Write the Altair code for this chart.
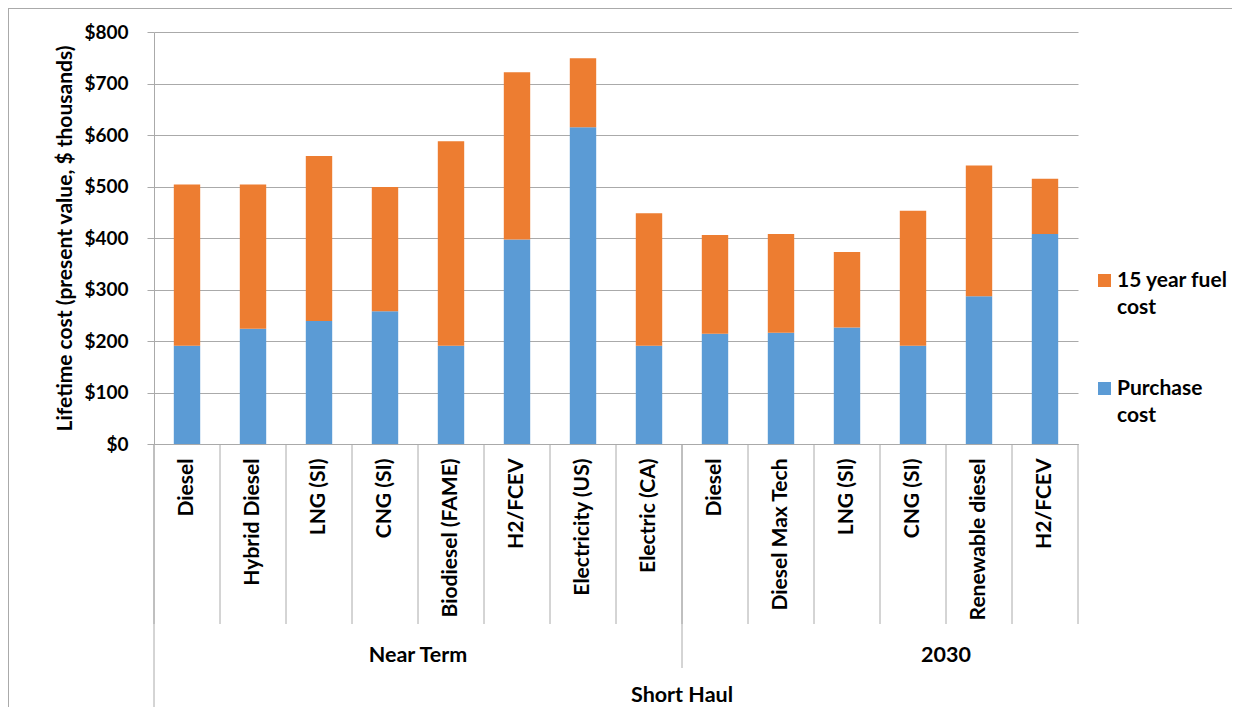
import altair as alt
import pandas as pd

# ---------------- data ----------------
GROUPS = ["Near Term", "2030"]
CATEGORIES = [
    ["Diesel", "Hybrid Diesel", "LNG (SI)", "CNG (SI)", "Biodiesel (FAME)",
     "H2/FCEV", "Electricity (US)", "Electric (CA)"],
    ["Diesel", "Diesel Max Tech", "LNG (SI)", "CNG (SI)", "Renewable diesel", "H2/FCEV"],
]
SUPER_GROUP = "Short Haul"
SERIES = ["15 year fuel cost", "Purchase cost"]
PURCHASE_COST = [191, 224, 239, 258, 191, 397, 615, 191, 214, 216, 226, 191, 287, 408]
FUEL_COST = [313, 280, 320, 241, 397, 325, 134, 257, 192, 192, 147, 262, 254, 107]
Y_TICKS = [0, 100, 200, 300, 400, 500, 600, 700, 800]
Y_TITLE = "Lifetime cost (present value, $ thousands)"

# ---------------- style / layout ----------------
COLORS = ["#ED7D31", "#5B9BD5"]
FONT = "Lato"
GRID = "#aaaaaa"
W, H = 924, 412
PAD = {"left": 146, "top": 24, "right": 154, "bottom": 263}
GROUP_LABEL_POS = [4, 12]      # where the group labels sit (in category units)
SUPER_LABEL_POS = 8

# ---------------- tables ----------------
keys = []
for g, cats in zip(GROUPS, CATEGORIES):
    for c in cats:
        keys.append(f"{g}|{c}")

rows = []
for k, p, f in zip(keys, PURCHASE_COST, FUEL_COST):
    rows.append({"key": k, "series": SERIES[1], "value": p, "stack_order": 0})
    rows.append({"key": k, "series": SERIES[0], "value": f, "stack_order": 1})
df = pd.DataFrame(rows)

n = len(keys)
sizes = [len(c) for c in CATEGORIES]
bounds = [0]
for s in sizes:
    bounds.append(bounds[-1] + s)

color_scale = alt.Scale(domain=SERIES, range=COLORS)

bars = alt.Chart(df).mark_bar().encode(
    x=alt.X("key:N", sort=keys, title=None,
            scale=alt.Scale(paddingInner=0.6, paddingOuter=0.3),
            axis=alt.Axis(labelExpr="split(datum.label, '|')[1]", labelAngle=270,
                          labelFont=FONT, labelFontSize=21, labelFontWeight="bold",
                          labelColor="black", labelPadding=14, labelLimit=400,
                          ticks=False, domain=True, domainColor=GRID, grid=False)),
    y=alt.Y("value:Q", stack="zero",
            scale=alt.Scale(domain=[0, 800], nice=False),
            axis=alt.Axis(values=Y_TICKS, labelExpr="'$' + datum.value",
                          title=Y_TITLE, titleFont=FONT, titleFontSize=21,
                          titleFontWeight="bold", titleColor="black",
                          titleAngle=270, titleX=-89, titleY=206,
                          titleAlign="center", titleBaseline="middle",
                          labelFont=FONT, labelFontSize=19, labelFontWeight="bold",
                          labelColor="black", labelPadding=19,
                          tickSize=7, tickColor=GRID, domainColor=GRID,
                          grid=True, gridColor=GRID)),
    color=alt.Color("series:N", scale=color_scale, legend=None),
    order=alt.Order("stack_order:Q", sort="ascending"),
)

xq = alt.Scale(domain=[0, n], nice=False, zero=False)

sep_df = pd.DataFrame({"pos": list(range(0, n + 1))})
cat_sep = alt.Chart(sep_df).mark_rule(color=GRID, strokeWidth=1).encode(
    x=alt.X("pos:Q", scale=xq, axis=None),
    y=alt.value(H), y2=alt.value(H + 180),
)
grp_sep = alt.Chart(pd.DataFrame({"pos": bounds[1:-1]})).mark_rule(color=GRID, strokeWidth=1).encode(
    x=alt.X("pos:Q", scale=xq, axis=None),
    y=alt.value(H), y2=alt.value(H + 224),
)
outer_sep = alt.Chart(pd.DataFrame({"pos": [bounds[0]]})).mark_rule(color=GRID, strokeWidth=1).encode(
    x=alt.X("pos:Q", scale=xq, axis=None),
    y=alt.value(H), y2=alt.value(H + 270),
)
grp_text = alt.Chart(pd.DataFrame({"pos": GROUP_LABEL_POS, "label": GROUPS})).mark_text(
    font=FONT, fontSize=21.5, fontWeight="bold", color="black", baseline="alphabetic", align="center"
).encode(
    x=alt.X("pos:Q", scale=xq, axis=None), y=alt.value(H + 218), text="label:N",
)
super_text = alt.Chart(pd.DataFrame({"pos": [SUPER_LABEL_POS], "label": [SUPER_GROUP]})).mark_text(
    font=FONT, fontSize=21.5, fontWeight="bold", color="black", baseline="alphabetic", align="center"
).encode(
    x=alt.X("pos:Q", scale=xq, axis=None), y=alt.value(H + 258), text="label:N",
)

one = pd.DataFrame({"a": [0]})
border_top = alt.Chart(one).mark_rule(color=GRID, strokeWidth=1).encode(
    x=alt.value(-PAD["left"]), x2=alt.value(W + PAD["right"]), y=alt.value(-PAD["top"] + 0.5))
border_left = alt.Chart(one).mark_rule(color=GRID, strokeWidth=1).encode(
    x=alt.value(-PAD["left"] + 0.5), y=alt.value(-PAD["top"]), y2=alt.value(H + PAD["bottom"]))

# legend (custom, uses the same colour scale)
LEG_SQ_X, LEG_SQ_Y0, LEG_STEP = 950.5, 248.5, 108
LEG_TX_X, LEG_TX_Y0 = 963, 255
legend_lines = [["15 year fuel", "cost"], ["Purchase", "cost"]]
legend_layers = []
for i, (s, lines) in enumerate(zip(SERIES, legend_lines)):
    d = pd.DataFrame({"series": [s]})
    legend_layers.append(alt.Chart(d).mark_square(size=169, opacity=1).encode(
        x=alt.value(LEG_SQ_X), y=alt.value(LEG_SQ_Y0 + i * LEG_STEP),
        color=alt.Color("series:N", scale=color_scale, legend=None)))
    legend_layers.append(alt.Chart(d).mark_text(
        text=lines, font=FONT, fontSize=21, fontWeight="bold", color="black",
        align="left", baseline="alphabetic", lineHeight=27).encode(
        x=alt.value(LEG_TX_X), y=alt.value(LEG_TX_Y0 + i * LEG_STEP)))

chart = alt.layer(
    bars, cat_sep, grp_sep, outer_sep, grp_text, super_text,
    border_top, border_left, *legend_layers
).resolve_scale(x="independent").properties(
    width=W, height=H, padding=PAD, autosize=alt.AutoSizeParams(type="none"),
    background="white",
).configure_view(stroke=None)

chart.save("out.html", embed_options={"renderer": "svg", "actions": False})
